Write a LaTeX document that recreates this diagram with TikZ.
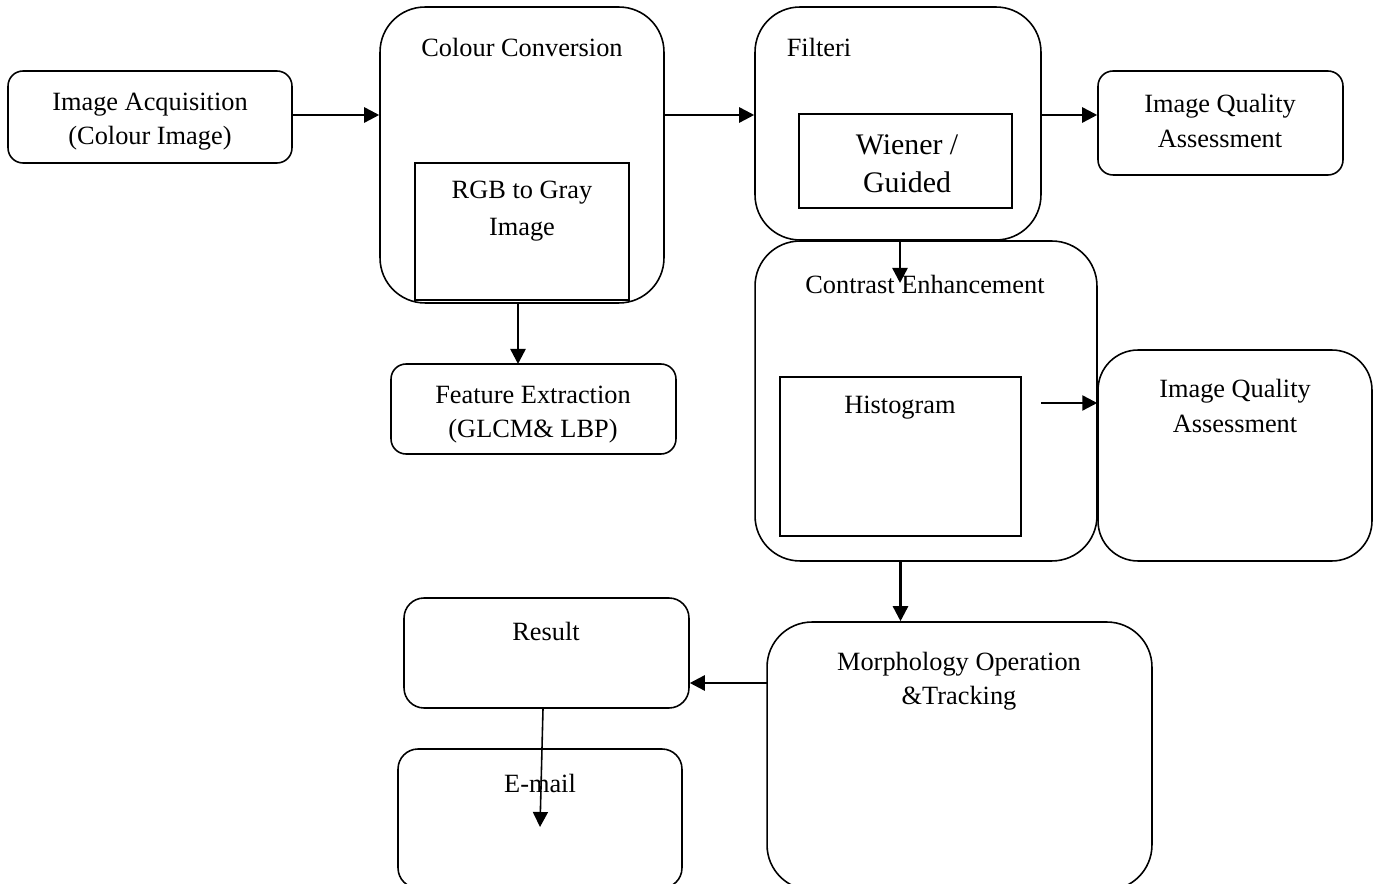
\documentclass[tikz,border=0pt]{standalone}
\usepackage{fontspec}
\setmainfont{Liberation Serif}
\usetikzlibrary{arrows.meta}
\begin{document}
\begin{tikzpicture}[x=0.02cm,y=-0.02cm,
  box/.style={draw,line width=0.9pt,rounded corners=0.3cm},
  bigbox/.style={draw,line width=0.9pt,rounded corners=0.9cm},
  inbox/.style={draw,line width=0.9pt,fill=white},
  txt/.style={align=center,font=\fontsize{15}{19.4}\selectfont},
  arr/.style={line width=1.4pt,-{Triangle[length=0.3cm,width=0.3cm]}}]
\useasboundingbox (0,0) rectangle (1376,884);
\clip (0,0) rectangle (1376,884);
\node[box,minimum width=5.68cm,minimum height=1.84cm] (acq) at (150,117) {};
\node[bigbox,minimum width=5.68cm,minimum height=5.92cm] (col) at (522,155) {};
\node[inbox,minimum width=4.28cm,minimum height=2.74cm] (rgb) at (522,231.5) {};
\node[box,minimum width=5.70cm,minimum height=1.80cm] (feat) at (533.5,409) {};
\node[bigbox,minimum width=5.72cm,minimum height=4.66cm] (flt) at (898,123.5) {};
\node[inbox,minimum width=4.26cm,minimum height=1.88cm] (wien) at (905.5,161) {};
\node[box,minimum width=4.90cm,minimum height=2.08cm] (iqa1) at (1220.5,123) {};
\node[bigbox,minimum width=6.84cm,minimum height=6.40cm] (con) at (926,401) {};
\node[inbox,minimum width=4.82cm,minimum height=3.18cm] (hist) at (900.5,456.5) {};
\node[box,rounded corners=0.8cm,minimum width=5.48cm,minimum height=4.22cm] (iqa2) at (1235,455.5) {};
\node[box,rounded corners=0.4cm,minimum width=5.70cm,minimum height=2.20cm] (res) at (546.5,653) {};
\node[box,rounded corners=0.4cm,minimum width=5.68cm,minimum height=2.78cm] (mail) at (540,818.5) {};
\node[bigbox,minimum width=7.70cm,minimum height=5.36cm] (morph) at (959.5,756) {};

\node[txt] (acqt) at (150,122) {Image Acquisition\\(Colour Image)};
\node[txt] (colt) at (522,47) {Colour Conversion};
\node[txt,font=\fontsize{15}{21}\selectfont] (rgbt) at (522,211) {RGB to Gray\\Image};
\node[txt] (featt) at (533,415) {Feature Extraction\\(GLCM\& LBP)};
\node[txt] (fltt) at (819,47) {Filteri};
\node[txt,font=\fontsize{17}{21.6}\selectfont] (wient) at (907,164) {Wiener /\\Guided};
\node[txt] (iqa1t) at (1220,121) {Image Quality\\Assessment};
\node[txt] (cont) at (925,284) {Contrast Enhancement};
\node[txt] (histt) at (900,408) {Histogram};
\node[txt] (iqa2t) at (1235,406) {Image Quality\\Assessment};
\node[txt] (rest) at (546,631) {Result};
\node[txt] (mailt) at (540,783) {E-mail};
\node[txt] (morpht) at (959,681) {Morphology Operation\\\&Tracking};

\coordinate (fltend) at (900,283);
\coordinate (histout) at (1041,403);
\coordinate (morphout) at (767,683);
\coordinate (mailend) at (540,827);
\path[arr]
  (acq.east |- 0,115) edge (col.west |- 0,115)
  (col.east |- 0,115) edge (flt.west |- 0,115)
  (flt.east |- 0,115) edge (iqa1.west |- 0,115)
  (col.south -| 518,0) edge (518,364)
  (flt.south -| fltend) edge (fltend)
  (histout) edge (histout -| iqa2.west)
  (hist.south |- con.south) edge (hist.south |- morph.north)
  (morphout) edge (morphout -| res.east)
;
\draw[arr,line width=0.9pt] (res.south -| 543,0) -- (mailend);
\end{tikzpicture}
\end{document}
